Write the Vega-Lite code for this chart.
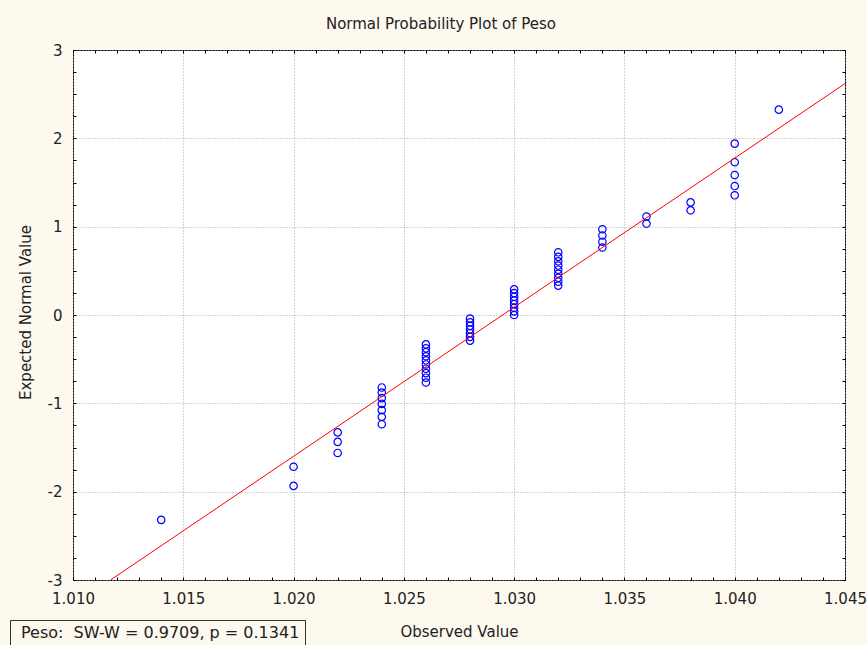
{
  "$schema": "https://vega.github.io/schema/vega-lite/v6.json",
  "width": 772,
  "height": 530,
  "autosize": "none",
  "padding": {"left": 73, "top": 50, "right": 22, "bottom": 65},
  "background": "#fdf9ee",
  "config": {"view": {"fill": "white", "stroke": "black", "strokeWidth": 1}, "font": "DejaVu Sans"},
  "title": {"text": "Normal Probability Plot of Peso", "anchor": "middle", "dx": -18, "dy": 27, "offset": 26, "baseline": "alphabetic", "fontSize": 15, "fontWeight": "normal", "font": "DejaVu Sans", "color": "#222222"},
  "datasets": {
    "pts": [
      {"observed": 1.014, "expected": -2.319},
      {"observed": 1.020, "expected": -1.934},
      {"observed": 1.020, "expected": -1.718},
      {"observed": 1.022, "expected": -1.562},
      {"observed": 1.022, "expected": -1.436},
      {"observed": 1.022, "expected": -1.329},
      {"observed": 1.024, "expected": -1.236},
      {"observed": 1.024, "expected": -1.153},
      {"observed": 1.024, "expected": -1.077},
      {"observed": 1.024, "expected": -1.006},
      {"observed": 1.024, "expected": -0.941},
      {"observed": 1.024, "expected": -0.878},
      {"observed": 1.024, "expected": -0.820},
      {"observed": 1.026, "expected": -0.764},
      {"observed": 1.026, "expected": -0.710},
      {"observed": 1.026, "expected": -0.658},
      {"observed": 1.026, "expected": -0.608},
      {"observed": 1.026, "expected": -0.560},
      {"observed": 1.026, "expected": -0.513},
      {"observed": 1.026, "expected": -0.467},
      {"observed": 1.026, "expected": -0.421},
      {"observed": 1.026, "expected": -0.377},
      {"observed": 1.026, "expected": -0.333},
      {"observed": 1.028, "expected": -0.290},
      {"observed": 1.028, "expected": -0.248},
      {"observed": 1.028, "expected": -0.206},
      {"observed": 1.028, "expected": -0.164},
      {"observed": 1.028, "expected": -0.123},
      {"observed": 1.028, "expected": -0.082},
      {"observed": 1.028, "expected": -0.041},
      {"observed": 1.030, "expected": 0.0},
      {"observed": 1.030, "expected": 0.041},
      {"observed": 1.030, "expected": 0.082},
      {"observed": 1.030, "expected": 0.123},
      {"observed": 1.030, "expected": 0.164},
      {"observed": 1.030, "expected": 0.206},
      {"observed": 1.030, "expected": 0.248},
      {"observed": 1.030, "expected": 0.290},
      {"observed": 1.032, "expected": 0.333},
      {"observed": 1.032, "expected": 0.377},
      {"observed": 1.032, "expected": 0.421},
      {"observed": 1.032, "expected": 0.467},
      {"observed": 1.032, "expected": 0.513},
      {"observed": 1.032, "expected": 0.560},
      {"observed": 1.032, "expected": 0.608},
      {"observed": 1.032, "expected": 0.658},
      {"observed": 1.032, "expected": 0.710},
      {"observed": 1.034, "expected": 0.764},
      {"observed": 1.034, "expected": 0.830},
      {"observed": 1.034, "expected": 0.900},
      {"observed": 1.034, "expected": 0.970},
      {"observed": 1.036, "expected": 1.035},
      {"observed": 1.036, "expected": 1.115},
      {"observed": 1.038, "expected": 1.185},
      {"observed": 1.038, "expected": 1.275},
      {"observed": 1.040, "expected": 1.355},
      {"observed": 1.040, "expected": 1.460},
      {"observed": 1.040, "expected": 1.585},
      {"observed": 1.040, "expected": 1.730},
      {"observed": 1.040, "expected": 1.940},
      {"observed": 1.042, "expected": 2.325}
    ],
    "fit": [
      {"observed": 1.0117, "expected": -3.0},
      {"observed": 1.045, "expected": 2.62}
    ]
  },
  "layer": [
    {
      "data": {"name": "pts"},
      "mark": {"type": "point", "shape": "circle", "filled": false, "size": 55, "strokeWidth": 1.2, "opacity": 1},
      "encoding": {
        "x": {
          "field": "observed", "type": "quantitative",
          "scale": {"domain": [1.010, 1.045], "nice": false, "zero": false},
          "axis": {
            "orient": "bottom",
            "title": "Observed Value",
            "values": [1.010, 1.011, 1.012, 1.013, 1.014, 1.015, 1.016, 1.017, 1.018, 1.019, 1.020, 1.021, 1.022, 1.023, 1.024, 1.025, 1.026, 1.027, 1.028, 1.029, 1.030, 1.031, 1.032, 1.033, 1.034, 1.035, 1.036, 1.037, 1.038, 1.039, 1.040, 1.041, 1.042, 1.043, 1.044, 1.045],
            "labelExpr": "abs(datum.value*200 - round(datum.value*200)) < 0.01 ? format(datum.value, '.3f') : ''",
            "labelOverlap": false,
            "labelFlush": false,
            "grid": true,
            "gridOpacity": {"condition": {"test": "abs(datum.value*200 - round(datum.value*200)) < 0.01", "value": 1}, "value": 0},
            "gridColor": "#a8a8a8",
            "gridDash": [1, 2],
            "domain": false,
            "ticks": true,
            "tickSize": -3,
            "tickColor": "black",
            "labelPadding": 14,
            "labelBaseline": "top",
            "labelFont": "DejaVu Sans",
            "labelFontSize": 15,
            "labelColor": "#222222",
            "titleFont": "DejaVu Sans",
            "titleFontSize": 15,
            "titleFontWeight": "normal",
            "titleColor": "#222222",
            "titleBaseline": "middle",
            "titleY": 51
          }
        },
        "y": {
          "field": "expected", "type": "quantitative",
          "scale": {"domain": [-3, 3], "nice": false, "zero": false},
          "axis": {
            "orient": "left",
            "title": "Expected Normal Value",
            "values": [-3, -2.75, -2.5, -2.25, -2, -1.75, -1.5, -1.25, -1, -0.75, -0.5, -0.25, 0, 0.25, 0.5, 0.75, 1, 1.25, 1.5, 1.75, 2, 2.25, 2.5, 2.75, 3],
            "labelExpr": "datum.value == round(datum.value) ? '' + datum.value : ''",
            "labelOverlap": false,
            "labelFlush": false,
            "grid": true,
            "gridOpacity": {"condition": {"test": "datum.value == round(datum.value)", "value": 1}, "value": 0},
            "gridColor": "#a8a8a8",
            "gridDash": [1, 2],
            "domain": false,
            "ticks": true,
            "tickSize": -3,
            "tickColor": "black",
            "labelPadding": 14,
            "labelFont": "DejaVu Sans",
            "labelFontSize": 15,
            "labelColor": "#222222",
            "titleFont": "DejaVu Sans",
            "titleFontSize": 15,
            "titleFontWeight": "normal",
            "titleColor": "#222222",
            "titleBaseline": "middle",
            "titleX": -48,
            "titleY": 262
          }
        },
        "color": {
          "datum": "Peso:\u00a0 SW-W = 0.9709, p = 0.1341",
          "scale": {"range": ["#0000ff"]},
          "legend": {
            "orient": "none",
            "legendX": -63,
            "legendY": 570,
            "title": null,
            "strokeColor": "#333333",
            "padding": 5,
            "symbolSize": 0,
            "symbolOpacity": 0,
            "symbolStrokeWidth": 0,
            "labelOffset": -10,
            "labelFont": "DejaVu Sans",
            "labelFontSize": 16,
            "labelColor": "#222222",
            "labelLimit": 500
          }
        }
      }
    },
    {
      "data": {"name": "fit"},
      "mark": {"type": "line", "color": "#ff0000", "strokeWidth": 1},
      "encoding": {
        "x": {
          "field": "observed", "type": "quantitative",
          "scale": {"domain": [1.010, 1.045], "nice": false, "zero": false},
          "axis": {
            "orient": "top",
            "title": null,
            "values": [1.010, 1.011, 1.012, 1.013, 1.014, 1.015, 1.016, 1.017, 1.018, 1.019, 1.020, 1.021, 1.022, 1.023, 1.024, 1.025, 1.026, 1.027, 1.028, 1.029, 1.030, 1.031, 1.032, 1.033, 1.034, 1.035, 1.036, 1.037, 1.038, 1.039, 1.040, 1.041, 1.042, 1.043, 1.044, 1.045],
            "labels": false,
            "grid": false,
            "domain": false,
            "ticks": true,
            "tickSize": -3,
            "tickColor": "black"
          }
        },
        "y": {
          "field": "expected", "type": "quantitative",
          "scale": {"domain": [-3, 3], "nice": false, "zero": false},
          "axis": {
            "orient": "right",
            "title": null,
            "values": [-3, -2.75, -2.5, -2.25, -2, -1.75, -1.5, -1.25, -1, -0.75, -0.5, -0.25, 0, 0.25, 0.5, 0.75, 1, 1.25, 1.5, 1.75, 2, 2.25, 2.5, 2.75, 3],
            "labels": false,
            "grid": false,
            "domain": false,
            "ticks": true,
            "tickSize": -3,
            "tickColor": "black"
          }
        }
      }
    }
  ],
  "resolve": {"axis": {"x": "independent", "y": "independent"}}
}
